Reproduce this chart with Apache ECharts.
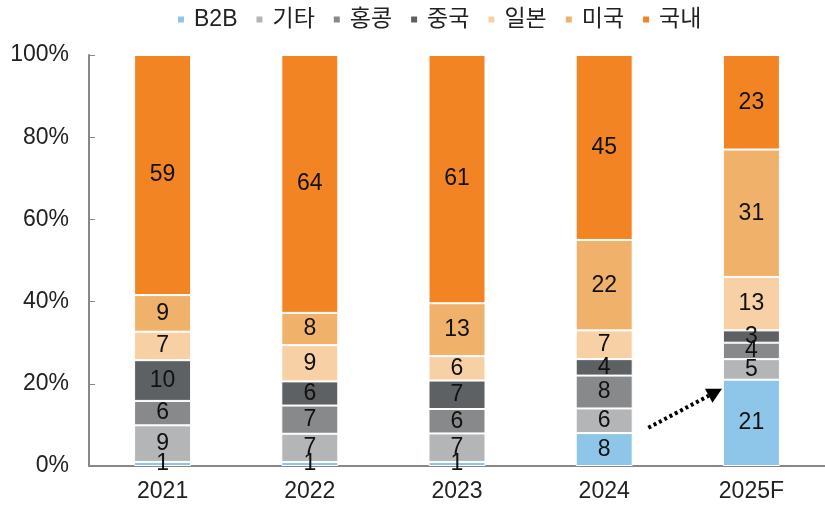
<!DOCTYPE html>
<html lang="ko">
<head>
    <meta charset="UTF-8">
    <title>chart</title>
    <script src="https://cdn.jsdelivr.net/npm/echarts@6/dist/echarts.min.js"></script>
    <style>
        html, body { margin: 0; padding: 0; background: #fff; }
    </style>
</head>
<body>
    <div id="container" style="width: 825px; height: 506px;"></div>

    <script>
        var years = ['2021', '2022', '2023', '2024', '2025F'];
        var names = ['B2B', '기타', '홍콩', '중국', '일본', '미국', '국내'];
        var colors = ['#8dc6e8', '#b4b5b7', '#87898b', '#5e6164', '#f7d0a6', '#f0b16a', '#f38423'];

        var b2b   = [1, 1, 1, 8, 21];
        var other = [9, 7, 7, 6, 5];
        var hk    = [6, 7, 6, 8, 4];
        var china = [10, 6, 7, 4, 3];
        var japan = [7, 9, 6, 7, 13];
        var usa   = [9, 8, 13, 22, 31];
        var home  = [59, 64, 61, 45, 23];

        var yTicks = [0, 20, 40, 60, 80, 100];

        var raw = [b2b, other, hk, china, japan, usa, home];

        // totals per year, so each bar fills 100%
        var totals = years.map(function (y, i) {
            var s = 0;
            raw.forEach(function (arr) { s += arr[i]; });
            return s;
        });

        var font = 'Liberation Sans, Noto Sans CJK KR, sans-serif';

        var series = raw.map(function (arr, k) {
            return {
                name: names[k],
                type: 'bar',
                stack: 'total',
                barWidth: 57,
                itemStyle: { color: colors[k], borderColor: '#fff', borderWidth: 1 },
                label: {
                    show: true,
                    position: 'inside',
                    color: '#111',
                    fontSize: 23,
                    fontFamily: font,
                    formatter: function (p) { return arr[p.dataIndex]; }
                },
                data: arr.map(function (v, i) { return v / totals[i] * 100; })
            };
        });

        var chart = echarts.init(document.getElementById('container'));

        chart.setOption({
            animation: false,
            color: colors,
            legend: {
                top: 3,
                left: 171,
                icon: 'rect',
                itemWidth: 8,
                itemHeight: 8,
                itemGap: 17,
                textStyle: { fontSize: 23, color: '#222', fontFamily: font, padding: [0, 0, 0, 4] },
                data: names
            },
            grid: { left: 89, top: 55, width: 740, bottom: 40 },
            xAxis: {
                type: 'category',
                data: years,
                axisLine: { lineStyle: { color: '#888', width: 2 } },
                axisTick: { inside: true, length: 5, lineStyle: { color: '#888' } },
                axisLabel: { fontSize: 23, color: '#222', margin: 14, fontFamily: font }
            },
            yAxis: {
                type: 'value',
                min: 0,
                max: 100,
                interval: 20,
                axisLine: { show: true, lineStyle: { color: '#888', width: 2 } },
                axisTick: { show: true, inside: true, length: 6, lineStyle: { color: '#888' } },
                splitLine: { show: false },
                axisLabel: {
                    fontSize: 23, color: '#222', margin: 20, fontFamily: font,
                    formatter: function (v) { return yTicks.indexOf(v) >= 0 ? v + '%' : ''; }
                }
            },
            series: series
        });

        // dotted arrow from 2024 towards 2025F B2B bar
        var c0 = chart.convertToPixel({ xAxisIndex: 0, yAxisIndex: 0 }, [3, 9.3]);
        var c1 = chart.convertToPixel({ xAxisIndex: 0, yAxisIndex: 0 }, [4, 18.8]);
        var band = c1[0] - c0[0];
        var x0 = c0[0] + band * 0.3, y0 = c0[1];
        var x1 = c0[0] + band * 0.8, y1 = c1[1];
        var ang = Math.atan2(y1 - y0, x1 - x0);
        var hl = 15, hw = 8;
        var bx = x1 - hl * Math.cos(ang), by = y1 - hl * Math.sin(ang);
        var px = -Math.sin(ang) * hw, py = Math.cos(ang) * hw;

        chart.setOption({
            graphic: [
                {
                    type: 'line',
                    shape: { x1: x0, y1: y0, x2: bx, y2: by },
                    style: { stroke: '#000', lineWidth: 4, lineDash: [3, 3] },
                    z: 100
                },
                {
                    type: 'polygon',
                    shape: { points: [[x1, y1], [bx + px, by + py], [bx - px, by - py]] },
                    style: { fill: '#000' },
                    z: 100
                }
            ]
        });
    </script>
</body>
</html>
